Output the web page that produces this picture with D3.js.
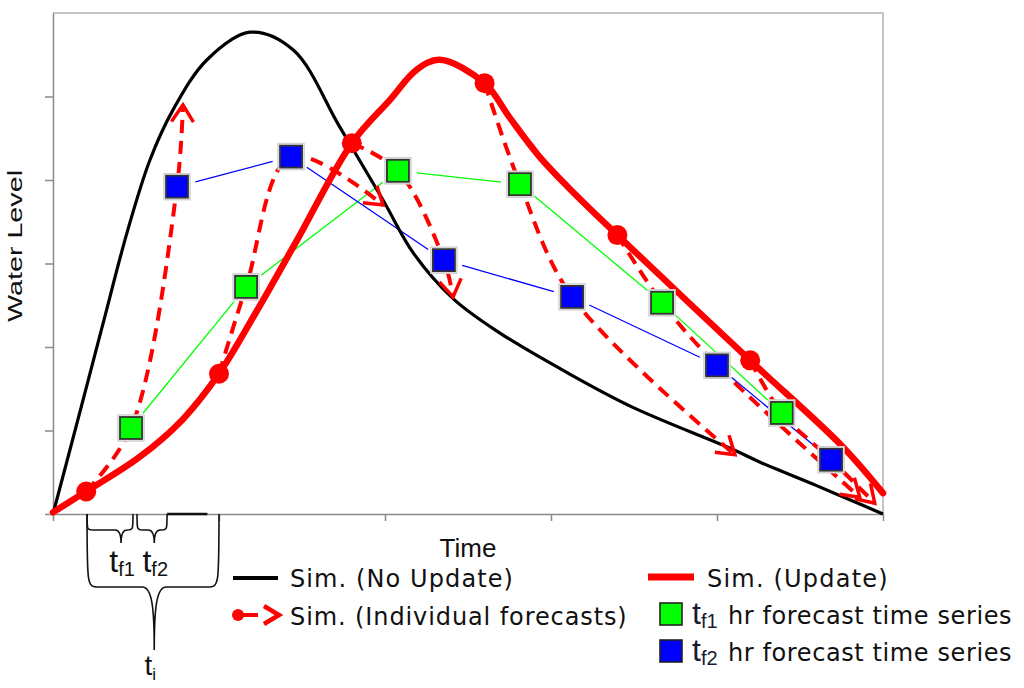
<!DOCTYPE html>
<html>
<head>
<meta charset="utf-8">
<script src="https://cdn.jsdelivr.net/npm/d3@7"></script>
<style>
  body { margin: 0; background: #fff; }
  svg { display: block; }
</style>
</head>
<body>
<script>
// axis ticks (time units / level units, no labels on the original)
const timeTicks = [0, 1, 2, 3, 4, 5];
const levelTicks = [0, 1, 2, 3, 4, 5];

// Sim. (No Update)
const noUpdateTime  = [0, 0.15, 0.3, 0.446, 0.584, 0.723, 0.928, 1.187, 1.446, 1.729, 1.988, 2.169, 2.41, 2.69, 3.10, 3.49, 4.10, 4.26, 4.6, 4.8, 5.0];
const noUpdateLevel = [0, 1.13, 2.27, 3.37, 4.24, 4.84, 5.44, 5.77, 5.56, 4.63, 3.76, 3.13, 2.58, 2.17, 1.69, 1.28, 0.77, 0.62, 0.34, 0.17, 0.0];

// Sim. (Update)
const updateTime  = [0, 0.2, 0.52, 0.78, 1.0, 1.23, 1.47, 1.8, 2.03, 2.19, 2.33, 2.6, 2.75, 2.93, 3.1, 3.4, 4.2, 4.76, 5.0];
const updateLevel = [0.02, 0.27, 0.68, 1.13, 1.68, 2.44, 3.28, 4.44, 4.96, 5.32, 5.44, 5.16, 4.75, 4.28, 3.92, 3.34, 1.84, 0.80, 0.25];

// update times (start of each individual forecast)
const dotTime  = [0.2, 1.0, 1.8, 2.6, 3.4, 4.2];
const dotLevel = [0.27, 1.68, 4.44, 5.16, 3.34, 1.84];

// tf1 hr forecast time series
const tf1Time  = [0.47, 1.163, 2.078, 2.813, 3.669, 4.39];
const tf1Level = [1.03, 2.72, 4.11, 3.95, 2.53, 1.21];

// tf2 hr forecast time series
const tf2Time  = [0.747, 1.434, 2.355, 3.127, 4.0, 4.687];
const tf2Level = [3.92, 4.28, 3.04, 2.60, 1.78, 0.65];

// end of each individual forecast (arrow tip)
const endTime  = [0.783, 1.988, 2.41, 4.108, 4.86, 4.95];
const endLevel = [4.90, 3.70, 2.60, 0.71, 0.20, 0.13];

// braces under the time axis
const braceFrom  = [0.205, 0.506, 0.205];
const braceTo    = [0.482, 0.687, 1.0];
const braceTip   = [0.41, 0.61, 0.61];
const braceSub   = ["f1", "f2", "i"];

const W = 1024, H = 688;
const redC = "#ff0000", greenC = "#00ff00", blueC = "#0000ff";

const svg = d3.select("body").append("svg")
    .attr("width", W)
    .attr("height", H);

const x = d3.scaleLinear().domain([0, 5]).range([53, 883]);
const y = d3.scaleLinear().domain([0, 6]).range([514, 13]);

// chevron arrow head
svg.append("defs").append("marker")
    .attr("id", "chev")
    .attr("markerUnits", "userSpaceOnUse")
    .attr("viewBox", "-22 -15 26 30")
    .attr("markerWidth", 26)
    .attr("markerHeight", 30)
    .attr("refX", 0)
    .attr("refY", 0)
    .attr("orient", "auto")
    .append("path")
    .attr("d", "M-17,-11 L0,0 L-17,11")
    .attr("fill", "none")
    .attr("stroke", redC)
    .attr("stroke-width", 3.5)
    .attr("stroke-dasharray", "none");

// frame (top + right)
svg.append("path")
    .attr("d", `M${x(0)},${y(6)} H${x(5)} V${y(0)}`)
    .attr("fill", "none")
    .attr("stroke", "#c4c4c4")
    .attr("stroke-width", 2);

// axes
const yAxis = svg.append("g")
    .attr("transform", `translate(${x(0)},0)`)
    .call(d3.axisLeft(y).tickValues(levelTicks).tickSize(8).tickSizeOuter(0).tickFormat(""));
const xAxis = svg.append("g")
    .attr("transform", `translate(0,${y(0)})`)
    .call(d3.axisBottom(x).tickValues(timeTicks).tickSize(7).tickSizeOuter(0).tickFormat(""));
[yAxis, xAxis].forEach(g => {
    g.selectAll("path, line").attr("stroke", "#8a8a8a").attr("stroke-width", 1.5);
});

// thin connecting lines for tf1 / tf2 series, cut short near the squares
function gappedSegments(ts, ls, gap) {
    let segs = [];
    for (let i = 0; i < ts.length - 1; i++) {
        let x1 = x(ts[i]), y1 = y(ls[i]), x2 = x(ts[i + 1]), y2 = y(ls[i + 1]);
        let len = Math.hypot(x2 - x1, y2 - y1);
        let ux = (x2 - x1) / len, uy = (y2 - y1) / len;
        segs.push([x1 + ux * gap, y1 + uy * gap, x2 - ux * gap, y2 - uy * gap]);
    }
    return segs;
}
[[tf1Time, tf1Level, greenC], [tf2Time, tf2Level, blueC]].forEach(([ts, ls, c]) => {
    svg.append("g").selectAll("line")
        .data(gappedSegments(ts, ls, 19))
        .join("line")
        .attr("x1", d => d[0]).attr("y1", d => d[1])
        .attr("x2", d => d[2]).attr("y2", d => d[3])
        .attr("stroke", c)
        .attr("stroke-width", 1.3);
});

const curve = d3.line()
    .x(d => x(d[0]))
    .y(d => y(d[1]))
    .curve(d3.curveCatmullRom.alpha(0.5));

// black: no update
svg.append("path")
    .datum(d3.zip(noUpdateTime, noUpdateLevel))
    .attr("d", curve)
    .attr("fill", "none")
    .attr("stroke", "#000")
    .attr("stroke-width", 3.2);

// red: update
svg.append("path")
    .datum(d3.zip(updateTime, updateLevel))
    .attr("d", curve)
    .attr("fill", "none")
    .attr("stroke", redC)
    .attr("stroke-width", 6.5)
    .attr("stroke-linecap", "round");

// individual forecasts: update point -> tf1 -> tf2 -> end
const forecasts = dotTime.map((t, i) => [
    [t, dotLevel[i]],
    [tf1Time[i], tf1Level[i]],
    [tf2Time[i], tf2Level[i]],
    [endTime[i], endLevel[i]]
]);
svg.append("g").selectAll("path")
    .data(forecasts)
    .join("path")
    .attr("d", curve)
    .attr("fill", "none")
    .attr("stroke", redC)
    .attr("stroke-width", 4)
    .attr("stroke-dasharray", "13,8")
    .attr("marker-end", "url(#chev)");

// red dots at update times
svg.append("g").selectAll("circle")
    .data(d3.zip(dotTime, dotLevel))
    .join("circle")
    .attr("cx", d => x(d[0]))
    .attr("cy", d => y(d[1]))
    .attr("r", 10)
    .attr("fill", redC);

// squares
const sq = 22;
[[tf1Time, tf1Level, greenC], [tf2Time, tf2Level, blueC]].forEach(([ts, ls, c]) => {
    let g = svg.append("g").selectAll("g")
        .data(d3.zip(ts, ls))
        .join("g")
        .attr("transform", d => `translate(${x(d[0])},${y(d[1])})`);
    g.append("rect")
        .attr("x", -sq / 2 - 2).attr("y", -sq / 2 - 2)
        .attr("width", sq + 4).attr("height", sq + 4)
        .attr("fill", "#fff")
        .attr("stroke", "#d0d0d0")
        .attr("stroke-width", 1.5);
    g.append("rect")
        .attr("x", -sq / 2).attr("y", -sq / 2)
        .attr("width", sq).attr("height", sq)
        .attr("fill", c)
        .attr("stroke", "#333")
        .attr("stroke-width", 1.8);
});

// axis titles
svg.append("text")
    .attr("x", 468).attr("y", 557)
    .attr("text-anchor", "middle")
    .style("font-family", "'Liberation Sans', Arial, sans-serif")
    .style("font-size", "26px")
    .attr("fill", "#111")
    .text("Time");

svg.append("text")
    .attr("transform", "translate(22,246) rotate(-90)")
    .attr("text-anchor", "middle")
    .attr("textLength", 152)
    .attr("lengthAdjust", "spacingAndGlyphs")
    .style("font-family", "'Liberation Sans', Arial, sans-serif")
    .style("font-size", "21px")
    .attr("fill", "#111")
    .text("Water Level");

// braces below the axis
function bracePath(x1, x2, y0, yb, tipX, tipY, r) {
    let k = yb + (tipY - yb) * 0.35;
    return `M${x1},${y0} C${x1},${yb} ${x1},${yb} ${x1 + r},${yb} ` +
        `L${tipX - r},${yb} C${tipX - 2},${yb} ${tipX},${k} ${tipX},${tipY} ` +
        `C${tipX},${k} ${tipX + 2},${yb} ${tipX + r},${yb} ` +
        `L${x2 - r},${yb} C${x2},${yb} ${x2},${yb} ${x2},${y0}`;
}
const braceG = svg.append("g")
    .attr("fill", "none")
    .attr("stroke", "#111")
    .attr("stroke-width", 1.6);
braceSub.forEach((s, i) => {
    let big = s === "i";
    let yb = big ? 587 : 530, tipY = big ? 650 : 543;
    braceG.append("path")
        .attr("d", bracePath(x(braceFrom[i]), x(braceTo[i]), y(0), yb, x(braceTip[i]), tipY, big ? 12 : 6));
});
// darker stretch of axis under the brace
svg.append("line")
    .attr("x1", x(braceTo[1])).attr("x2", x(0.93))
    .attr("y1", y(0)).attr("y2", y(0))
    .attr("stroke", "#111").attr("stroke-width", 2.5);

braceSub.forEach((s, i) => {
    let big = s === "i";
    let t = svg.append("text")
        .attr("x", x(braceTip[i]) + (big ? -4 : 1))
        .attr("y", big ? 675 : 572)
        .attr("text-anchor", "middle")
        .style("font-family", "'Liberation Sans', Arial, sans-serif")
        .attr("fill", "#111");
    t.append("tspan").style("font-size", big ? "28px" : "32px").text("t");
    t.append("tspan").style("font-size", big ? "17px" : "20px").attr("dy", big ? 5 : 4).text(s);
});

// legend
const legFont = "'DejaVu Sans', Verdana, sans-serif";
function legText(px, py, str, ls) {
    svg.append("text")
        .attr("x", px).attr("y", py)
        .style("font-family", legFont)
        .style("font-size", "24px")
        .style("letter-spacing", ls + "px")
        .attr("fill", "#111")
        .text(str);
}
svg.append("line").attr("x1", 233).attr("x2", 278).attr("y1", 578).attr("y2", 578)
    .attr("stroke", "#000").attr("stroke-width", 4);
legText(290, 587, "Sim. (No Update)", 1.1);

svg.append("line").attr("x1", 648).attr("x2", 694).attr("y1", 577).attr("y2", 577)
    .attr("stroke", redC).attr("stroke-width", 7);
legText(707, 587, "Sim. (Update)", 1.2);

svg.append("circle").attr("cx", 238).attr("cy", 615).attr("r", 6).attr("fill", redC);
svg.append("line").attr("x1", 242).attr("x2", 258).attr("y1", 615).attr("y2", 615)
    .attr("stroke", redC).attr("stroke-width", 4);
svg.append("path").attr("d", "M264,606 L279,615 L264,624")
    .attr("fill", "none").attr("stroke", redC).attr("stroke-width", 4.5);
legText(290, 625, "Sim. (Individual forecasts)", 0.9);

[[greenC, "f1", 603, 624], [blueC, "f2", 640, 661]].forEach(([c, s, ry, by]) => {
    svg.append("rect").attr("x", 660).attr("y", ry).attr("width", 22).attr("height", 22)
        .attr("fill", c).attr("stroke", "#222").attr("stroke-width", 1.6);
    let t = svg.append("text")
        .attr("x", 692).attr("y", by)
        .style("font-family", "'Liberation Sans', Arial, sans-serif")
        .attr("fill", "#1a1a30");
    t.append("tspan").style("font-size", "32px").text("t");
    t.append("tspan").style("font-size", "20px").attr("dy", 4).text(s);
    legText(728, by, "hr forecast time series", 0.6);
});
</script>
</body>
</html>
